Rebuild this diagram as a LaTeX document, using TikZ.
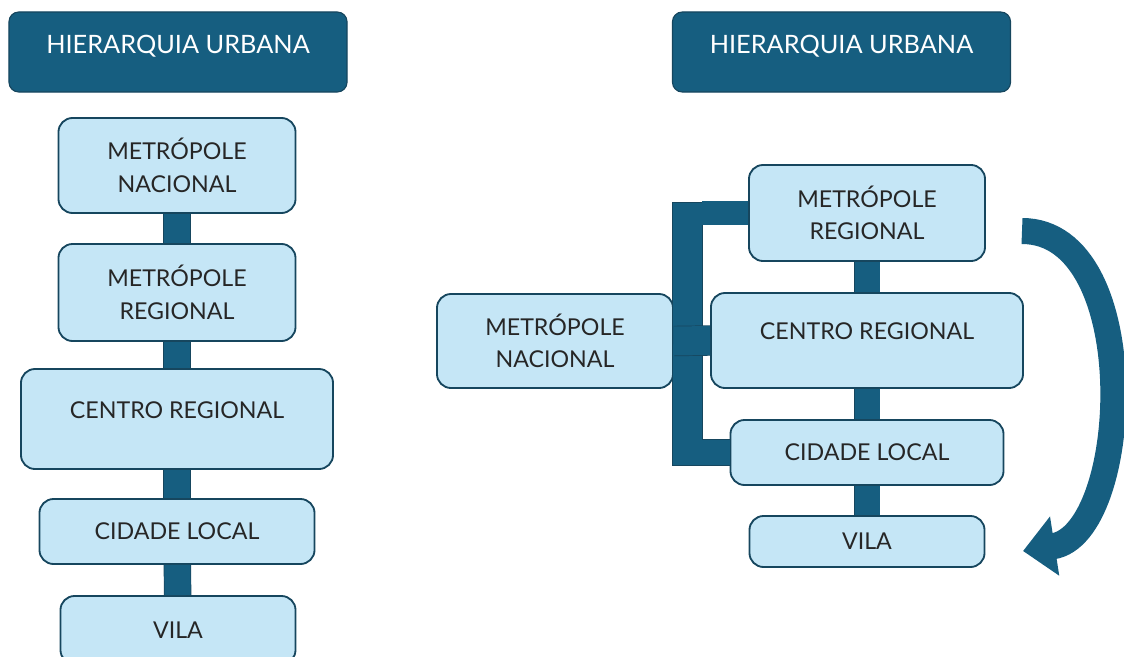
\documentclass[tikz,border=0pt]{standalone}
\usepackage{fontspec}
\setmainfont{Lato}
\usetikzlibrary{arrows.meta}
\definecolor{darkteal}{RGB}{22,94,128}
\definecolor{edgeteal}{RGB}{22,70,94}
\definecolor{lightsky}{RGB}{197,230,246}

\begin{document}
\begin{tikzpicture}[x=0.025cm, y=-0.025cm,
  titlebox/.style={fill=darkteal, draw=edgeteal, line width=0.8pt, rounded corners=7pt,
                   minimum width=8.45cm, minimum height=2cm, inner sep=0pt, text=white,
                   font=\fontsize{18}{21}\selectfont, text depth=0.37cm},
  levelbox/.style={fill=lightsky, draw=edgeteal, line width=1.3pt, rounded corners=10pt,
                   align=center, inner sep=0pt, text=black!85,
                   font=\fontsize{16.5}{23}\selectfont},
  bar/.style={draw=edgeteal, line width=0.5pt, double=darkteal, double distance=#1},
  bar/.default=0.65cm,
  spine/.style={fill=darkteal, draw=edgeteal, line width=0.5pt, inner sep=0pt,
                minimum width=0.75cm, minimum height=6.575cm},
  arrow/.style={darkteal, line width=0.65cm, -{Triangle[length=0.8cm, width=1.45cm]}}
]
  \useasboundingbox (0,0) rectangle (1124,657);

  % left column
  \node[titlebox] (lt) at (178,52) {HIERARQUIA URBANA};
  \node[levelbox, minimum width=5.925cm, minimum height=2.375cm] (l1) at (177,165.5) {METRÓPOLE\\NACIONAL};
  \node[levelbox, minimum width=5.925cm, minimum height=2.425cm] (l2) at (177,292.5) {METRÓPOLE\\REGIONAL};
  \node[levelbox, minimum width=7.8cm, minimum height=2.5cm, text depth=0.45cm] (l3) at (177,419) {CENTRO REGIONAL};
  \node[levelbox, minimum width=6.875cm, minimum height=1.625cm] (l4) at (177,531.5) {CIDADE LOCAL};
  \node[levelbox, minimum width=5.875cm, minimum height=1.7cm] (l5) at (178,630) {VILA};
  \draw[bar] (l1) -- (l2);
  \draw[bar] (l2) -- (l3);
  \draw[bar] (l3) -- (l4);
  \draw[bar] (l4) -- (l5);

  % right diagram
  \node[titlebox] (rt) at (841.5,52) {HIERARQUIA URBANA};
  \node[levelbox, minimum width=5.9cm, minimum height=2.35cm] (r0) at (555,341) {METRÓPOLE\\NACIONAL};
  \node[levelbox, minimum width=5.9cm, minimum height=2.4cm] (r1) at (867,213) {METRÓPOLE\\REGIONAL};
  \node[levelbox, minimum width=7.8cm, minimum height=2.375cm, text depth=0.45cm] (r2) at (867,340.5) {CENTRO REGIONAL};
  \node[levelbox, minimum width=6.825cm, minimum height=1.625cm] (r3) at (867,452.5) {CIDADE LOCAL};
  \node[levelbox, minimum width=5.875cm, minimum height=1.275cm] (r4) at (867,541.5) {VILA};
  \draw[bar=0.625cm] (r1) -- (r2);
  \draw[bar=0.625cm] (r2) -- (r3);
  \draw[bar=0.625cm] (r3) -- (r4);

  \node[spine] (sp) at (687,333.5) {};
  \draw[bar=0.575cm] (r1.west) -- (r1.west -| sp.east);
  \draw[bar=0.625cm] (r3.west) -- (r3.west -| sp.east);
  \draw[bar=0.725cm] (r0.east) -- (r2.west);

  \coordinate (as) at (1022,231);
  \coordinate (ae) at (1023,551);
  \draw[arrow] (as) .. controls (1145,231) and (1132,534) .. (ae);
\end{tikzpicture}
\end{document}
